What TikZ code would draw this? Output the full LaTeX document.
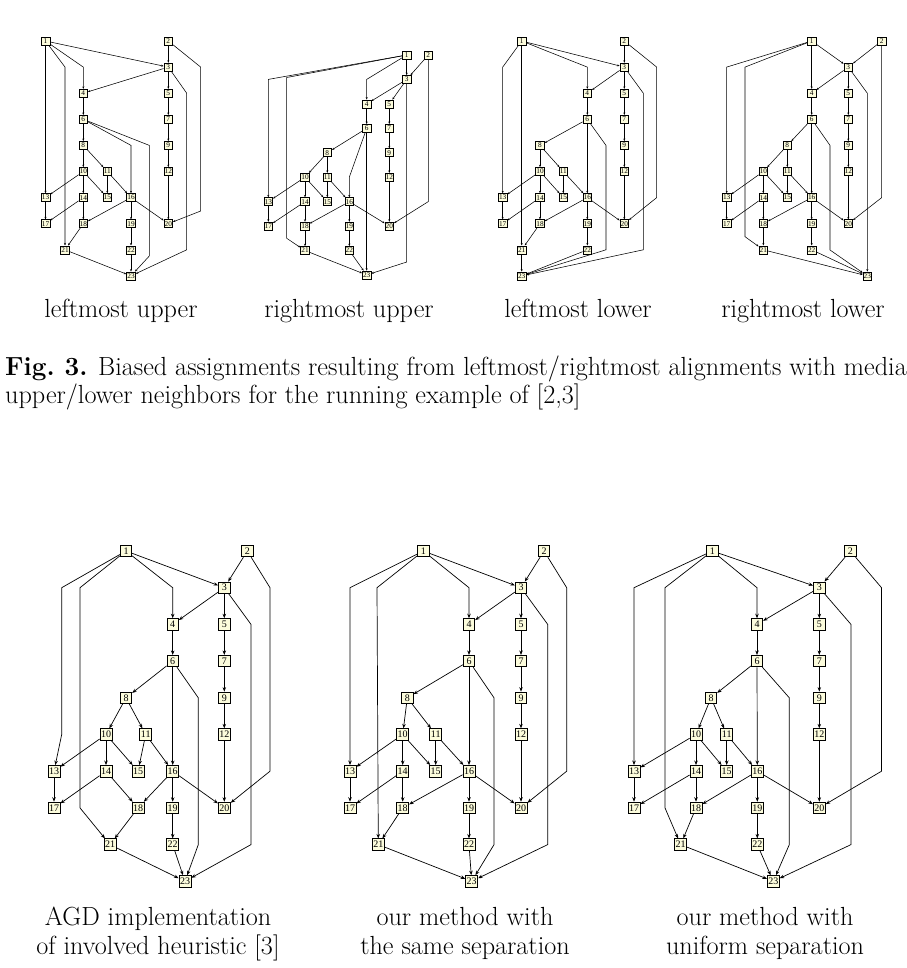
\documentclass[tikz,border=0pt]{standalone}
\usepackage{fontspec}
\newfontfamily\numfont{Liberation Serif}
\usetikzlibrary{arrows.meta}
\definecolor{boxfill}{HTML}{FCFCDC}
\tikzset{
  bbox/.style={rectangle, draw=black, fill=boxfill, line width=0.8pt, inner xsep=1pt, inner ysep=1pt,
               minimum width=11.5pt, minimum height=11.5pt, font={\numfont\fontsize{10}{10}\selectfont}},
  tbox/.style={rectangle, draw=black, fill=boxfill, line width=0.6pt, inner xsep=0.6pt, inner ysep=0.6pt,
               minimum width=8.8pt, minimum height=8pt, font={\numfont\fontsize{7.3}{7.3}\selectfont}},
  bedge/.style={-{Stealth[length=4.5pt,width=3.5pt]}, line width=0.7pt},
  tedge/.style={-{Stealth[length=2.5pt,width=2pt]}, line width=0.55pt},
  lbl/.style={anchor=base, inner sep=0, font={\fontsize{26.2}{31.4}\selectfont}},
  captxt/.style={anchor=base west, inner sep=0, font={\fontsize{26.2}{31.4}\selectfont}},
}
% nodes 1..23 of one layout: prefix, style, top y, layer gap, x of each node
\newcommand\graphnodes[5]{%
  \foreach \xx [count=\nn] in {#5}{%
    \pgfmathsetmacro\yy{#3+#4*{0,0,1,2,2,3,3,4,4,5,5,5,6,6,6,6,7,7,7,7,8,8,9}[\nn-1]}%
    \node[#2] (#1\nn) at (\xx,\yy) {\nn};
  }}
% edges drawn straight in every layout
\newcommand\plainedges[2]{%
  \foreach \s/\t in {1/3,2/3,3/4,3/5,4/6,5/7,6/8,7/9,8/10,8/11,9/12,10/13,10/14,10/15,11/15,11/16,
                     12/20,13/17,14/17,14/18,16/18,16/19,16/20,18/21,19/22,21/23,22/23}
    \draw[#2] (#1\s) -- (#1\t);}

\begin{document}
\begin{tikzpicture}[x=1pt, y=-1pt]
\useasboundingbox (0,0) rectangle (906,968);

% leftmost upper
\graphnodes{a}{tbox}{41}{26.1}{45.5,168.3,168.3,83.3,168.3,83.3,168.3,83.3,168.3,83.3,107.3,168.3,45.5,83.3,107.3,131,45.5,83.3,131,168.3,65,131,131}
\plainedges{a}{tedge}
\draw[tedge] (a1) -- (a13);
\draw[tedge] (a1) -- (83.3,67.1) -- (a4);
\draw[tedge] (a1) -- (65,67.1) -- (a21);
\draw[tedge] (a2) -- (200.7,67.1) -- (200.7,211) -- (a20);
\draw[tedge] (a3) -- (186.7,93.2) -- (186.7,249.8) -- (a23);
\draw[tedge] (a6) -- (131,145.4) -- (a16);
\draw[tedge] (a6) -- (149.3,145.4) -- (149.3,256) -- (a23);

% rightmost upper
\graphnodes{b}{tbox}{55}{24.44}{406.7,428.3,406.7,366.7,389.3,366.7,389.3,327.3,389.3,305,327.3,389.3,268.3,305,327.3,349.3,268.3,305,349.3,389.3,305,349.3,366.7}
\plainedges{b}{tedge}
\draw[tedge] (b1) -- (268.3,79.4) -- (b13);
\draw[tedge] (b1) -- (366.7,79.4) -- (b4);
\draw[tedge] (b1) -- (286.7,77.5) -- (286.7,238.3) -- (b21);
\draw[tedge] (b2) -- (428.3,201.6) -- (b20);
\draw[tedge] (b3) -- (406.7,262) -- (b23);
\draw[tedge] (b6) -- (349.3,177.2) -- (b16);
\draw[tedge] (b6) -- (b23);

% leftmost lower
\graphnodes{c}{tbox}{41}{26.1}{521.7,624.3,624.3,587.3,624.3,587.3,624.3,540,624.3,540,563.3,624.3,502.7,540,563.3,587.3,502.7,540,587.3,624.3,521.7,587.3,521.7}
\plainedges{c}{tedge}
\draw[tedge] (c1) -- (502.7,67.1) -- (c13);
\draw[tedge] (c1) -- (587.3,67.1) -- (c4);
\draw[tedge] (c1) -- (c21);
\draw[tedge] (c2) -- (656.7,67.1) -- (656.7,197.6) -- (c20);
\draw[tedge] (c3) -- (643.3,93.2) -- (643.3,249.8) -- (c23);
\draw[tedge] (c6) -- (c16);
\draw[tedge] (c6) -- (606,145.4) -- (606,249.8) -- (c23);

% rightmost lower
\graphnodes{d}{tbox}{41}{26.1}{811.7,881.7,848.3,811.7,848.3,811.7,848.3,787.3,848.3,763.3,787.3,848.3,726.7,763.3,787.3,811.7,726.7,763.3,811.7,848.3,763.3,811.7,867.3}
\plainedges{d}{tedge}
\draw[tedge] (d1) -- (726.7,67.1) -- (d13);
\draw[tedge] (d1) -- (d4);
\draw[tedge] (d1) -- (745,67.1) -- (745,236.7) -- (d21);
\draw[tedge] (d2) -- (881.7,197.6) -- (d20);
\draw[tedge] (d3) -- (867.3,93.2) -- (d23);
\draw[tedge] (d6) -- (d16);
\draw[tedge] (d6) -- (830,145.4) -- (830,250) -- (d23);

\node[lbl] (lbA) at (121,317) {leftmost upper};
\node[lbl] (lbB) at (349,317) {rightmost upper};
\node[lbl] (lbC) at (578,317) {leftmost lower};
\node[lbl] (lbD) at (803,317) {rightmost lower};

\node[captxt] (cap1) at (5,375) {\textbf{Fig.\ 3.} Biased assignments resulting from leftmost/rightmost alignments with media};
\node[captxt] (cap2) at (5,403) {upper/lower neighbors for the running example of [2,3]};

% AGD implementation
\graphnodes{e}{bbox}{551}{36.7}{126,247.3,224.3,172.7,224.3,172.7,224.3,126,224.3,106,145.7,224.3,54,106,138,172.7,54,138,172.7,224.3,110,172.7,185}
\plainedges{e}{bedge}
\draw[bedge] (e1) -- (61.7,587.7) -- (61.7,734.5) -- (e13);
\draw[bedge] (e1) -- (172.7,587.7) -- (e4);
\draw[bedge] (e1) -- (80,587.7) -- (80,807.9) -- (e21);
\draw[bedge] (e2) -- (270,587.7) -- (270,771.2) -- (e20);
\draw[bedge] (e3) -- (251,624.4) -- (251,844.6) -- (e23);
\draw[bedge] (e6) -- (e16);
\draw[bedge] (e6) -- (198.3,697.8) -- (198.3,844.6) -- (e23);

% same separation
\graphnodes{f}{bbox}{551}{36.7}{423.3,544,521,469,521,469,521,407.3,521,402.7,435.7,521,350,402.7,435.7,469,350,402.7,469,521,378.3,469,471.7}
\plainedges{f}{bedge}
\draw[bedge] (f1) -- (350,587.7) -- (f13);
\draw[bedge] (f1) -- (469,587.7) -- (f4);
\draw[bedge] (f1) -- (377,587.7) -- (f21);
\draw[bedge] (f2) -- (566.7,587.7) -- (566.7,771.2) -- (f20);
\draw[bedge] (f3) -- (547.7,624.4) -- (547.7,844.6) -- (f23);
\draw[bedge] (f6) -- (f16);
\draw[bedge] (f6) -- (494,697.8) -- (494,844.6) -- (f23);

% uniform separation
\graphnodes{g}{bbox}{551}{36.7}{712.3,850.3,819.3,757,819.3,757,819.3,711,819.3,696,726.7,819.3,634,696,726.7,757.3,634,696,757.3,819.3,680.7,757.3,773.3}
\plainedges{g}{bedge}
\draw[bedge] (g1) -- (634,587.7) -- (g13);
\draw[bedge] (g1) -- (757,587.7) -- (g4);
\draw[bedge] (g1) -- (665,587.7) -- (665,807.9) -- (g21);
\draw[bedge] (g2) -- (881.5,587.7) -- (881.5,771.2) -- (g20);
\draw[bedge] (g3) -- (851,624.4) -- (851,844.6) -- (g23);
\draw[bedge] (g6) -- (g16);
\draw[bedge] (g6) -- (789.3,697.8) -- (789.3,844.6) -- (g23);

\node[lbl] (lbE1) at (158,925) {AGD implementation};
\node[lbl] (lbE2) at (158,954) {of involved heuristic [3]};
\node[lbl] (lbF1) at (465,925) {our method with};
\node[lbl] (lbF2) at (465,954) {the same separation};
\node[lbl] (lbG1) at (765,925) {our method with};
\node[lbl] (lbG2) at (765,954) {uniform separation};
\end{tikzpicture}
\end{document}
